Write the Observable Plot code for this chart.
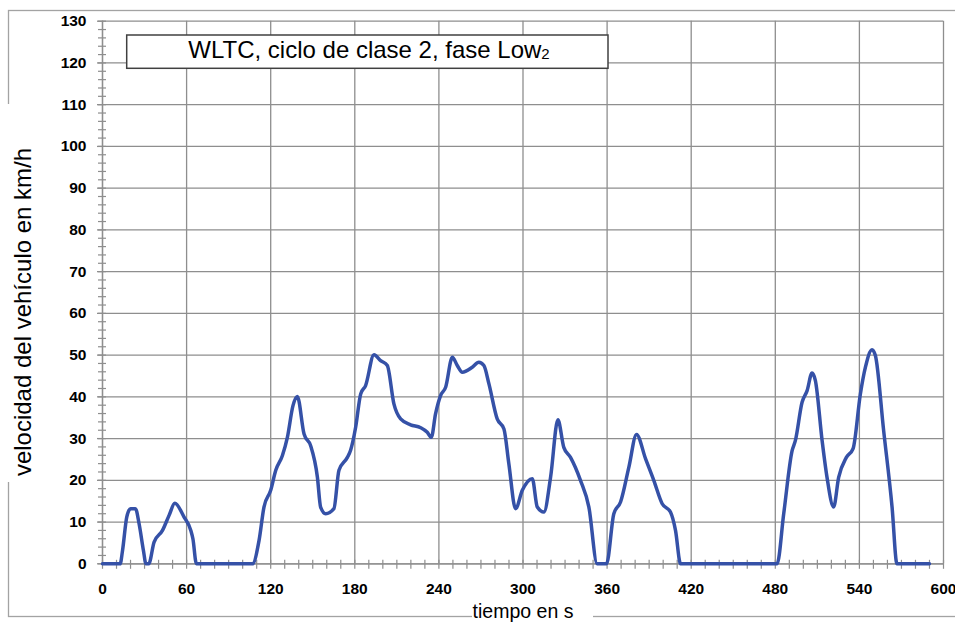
<!DOCTYPE html>
<html><head><meta charset="utf-8">
<script src="https://cdn.jsdelivr.net/npm/d3@7"></script>
<script src="https://cdn.jsdelivr.net/npm/@observablehq/plot@0.6"></script>
<style>
body{margin:0;background:#fff}
#chart{position:relative;width:955px;height:623px;overflow:hidden}
</style>
</head><body><div id="chart"></div>
<script>
// time in s
const time = [0, 12.6, 14.3, 17.3, 20, 23.5, 26.1, 29.2, 31, 33, 36.8, 42.8, 47.5, 51.6, 58.2, 63, 64.5, 67,
  107, 111.7, 115.2, 120, 123.6, 128.3, 131.9, 135.9, 139, 143.8, 148.5, 153.3, 155.6, 159.2, 165.1, 168.7, 174.7,
  177, 180.6, 184.2, 187.7, 193.7, 198.4, 203.2, 207.9, 212.7, 219.8, 227, 231.7, 234.6, 237.6, 241.2, 244.8,
  249.6, 253.1, 256.7, 263.8, 268.5, 272.1, 275.7, 281.6, 286.4, 289.9, 294.7, 299.5, 306.6, 310.2, 314.9,
  319.7, 324.9, 329.1, 333.9, 341, 347, 352.9, 359.6, 364.8, 369.6, 375.5, 381, 387.4, 393.3, 399.3, 405.2,
  408.8, 412.4, 481.3, 486, 492, 494.3, 499.1, 502.7, 506.2, 508.6, 513.4, 516.9, 521.6, 525.2, 530.7, 535.5,
  540.7, 544.3, 549, 551.4, 557.3, 563.3, 566.8, 590];
// speed in km/h
const speed = [0, 0, 3.2, 11.2, 13.2, 13.2, 9.6, 3.2, 0, 0, 5.2, 8.0, 11.6, 14.5, 11.2, 8, 6, 0,
  0, 5.6, 13.6, 17.6, 22.4, 25.9, 30.3, 37.9, 40.1, 31.1, 28.3, 20.8, 13.6, 12.0, 13.2, 22.4, 25.5,
  27.2, 32.7, 40.7, 42.7, 50.1, 48.7, 47.5, 38.3, 34.7, 33.3, 32.6, 31.5, 30.3, 35.9, 40.3, 42.3,
  49.5, 47.5, 45.9, 47.1, 48.3, 47.5, 43.1, 34.7, 32.3, 24, 13.2, 17.6, 20.4, 13.6, 12.4,
  20.8, 34.5, 27.9, 25.5, 20, 13.6, 0, 0, 12, 14.8, 23.1, 31, 25.2, 20, 14.4, 12.4,
  8, 0, 0, 12, 27.1, 29.5, 38.7, 41.5, 45.7, 43.9, 29.5, 20.7, 13.6, 20.7, 25.5, 27.6,
  40.7, 47.1, 51.3, 49.9, 31.9, 13.6, 0, 0];
const xTicks = [0, 60, 120, 180, 240, 300, 360, 420, 480, 540, 600];
const yTicks = [0, 10, 20, 30, 40, 50, 60, 70, 80, 90, 100, 110, 120, 130];
const xMinor = d3.range(0, 601, 10);
const yMinor = d3.range(0, 131, 2);
const title = "WLTC, ciclo de clase 2, fase Low";
const titleSub = "2";
const yLabel = "velocidad del vehículo en km/h";
const xLabel = "tiempo en s";

const data = time.map((t, i) => ({t, v: speed[i]}));
const gridColor = "#8e8e8e";
const font = "'Liberation Sans', Arial, sans-serif";

const svg = Plot.plot({
  width: 955, height: 623,
  marginLeft: 102, marginRight: 12, marginTop: 20.7, marginBottom: 59.7,
  x: {domain: [0, 600]},
  y: {domain: [0, 130]},
  style: {fontFamily: font, color: "#000", background: "#fff", overflow: "visible"},
  marks: [
    Plot.gridX(xTicks, {stroke: gridColor, strokeOpacity: 1, strokeWidth: 1.3}),
    Plot.gridY(yTicks, {stroke: gridColor, strokeOpacity: 1, strokeWidth: 1.3}),
    Plot.axisY({ticks: yMinor, tickSize: 8, dx: 4, fill: "none", stroke: gridColor, strokeWidth: 1.2, label: null}),
    Plot.axisY({ticks: yTicks, tickSize: 5, stroke: gridColor, strokeWidth: 1.3, tickPadding: 11,
      fontSize: 15.5, fontWeight: "bold", label: null}),
    Plot.axisX({ticks: xMinor, tickSize: 9, dy: -3.5, fill: "none", stroke: gridColor, strokeWidth: 1.2, label: null}),
    Plot.axisX({ticks: xTicks, tickSize: 0, tickPadding: 19, fontSize: 15.5, fontWeight: "bold", label: null}),
    Plot.ruleX([0], {stroke: gridColor, strokeWidth: 1.3}),
    Plot.ruleY([0], {stroke: gridColor, strokeWidth: 1.3}),
    Plot.line(data, {x: "t", y: "v", stroke: "#3551a7", strokeWidth: 3.5, curve: "monotone-x"})
  ]
});
document.getElementById("chart").appendChild(svg);

const s = d3.select(svg);
const g = s.append("g").attr("font-family", font);
// outer frame
g.append("rect").attr("x", 8.5).attr("y", 10.5).attr("width", 960).attr("height", 606)
  .attr("fill", "none").attr("stroke", "#a3a3a3").attr("stroke-width", 1.3);
// gaps in frame behind labels
g.append("rect").attr("x", 3).attr("y", 104).attr("width", 12).attr("height", 378).attr("fill", "#fff");
g.append("rect").attr("x", 472).attr("y", 611).attr("width", 121).attr("height", 12).attr("fill", "#fff");
// axis labels
g.append("text").attr("transform", "translate(31,312) rotate(-90)").attr("text-anchor", "middle")
  .attr("font-size", 24).attr("fill", "#000").text(yLabel);
g.append("text").attr("x", 523).attr("y", 617.5).attr("text-anchor", "middle")
  .attr("font-size", 19.5).attr("fill", "#000").text(xLabel);
// title box
g.append("rect").attr("x", 126.7).attr("y", 35).attr("width", 481.3).attr("height", 33.3)
  .attr("fill", "#fff").attr("stroke", "#404040").attr("stroke-width", 1.5);
const tt = g.append("text").attr("x", 369).attr("y", 57.5).attr("text-anchor", "middle")
  .attr("font-size", 24).attr("fill", "#000");
tt.append("tspan").text(title);
tt.append("tspan").attr("font-size", 15).attr("dy", 1).text(titleSub);
</script>
</body></html>
